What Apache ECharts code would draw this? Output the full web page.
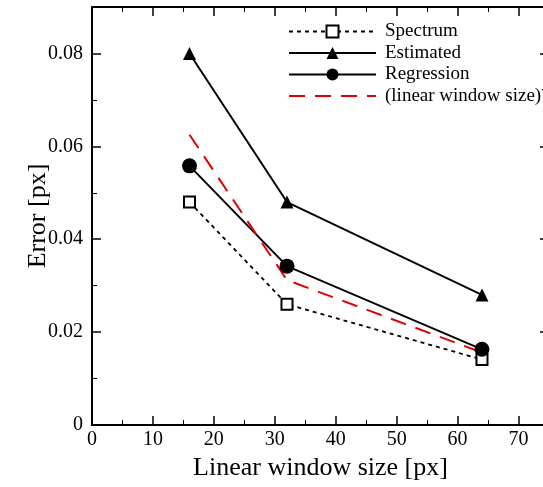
<!DOCTYPE html>
<html>
<head>
<meta charset="utf-8">
<script src="https://cdn.jsdelivr.net/npm/echarts@6/dist/echarts.min.js"></script>
<style>
html, body { margin: 0; padding: 0; background: #fff; }
#chart { width: 543px; height: 487px; }
</style>
</head>
<body>
<div id="chart"></div>
<script>
// window sizes on x
var windowSize = [16, 32, 64];
var spectrum = [0.0480, 0.0260, 0.0141];
var estimated = [0.0800, 0.0480, 0.0280];
var regression = [0.0558, 0.0342, 0.0163];
var inverseSize = [0.0625, 0.0312, 0.0156];
var names = ['Spectrum', 'Estimated', 'Regression', '(linear window size)⁻¹'];

function pairs(ys) {
    return windowSize.map(function (x, i) { return [x, ys[i]]; });
}

var serif = 'Liberation Serif';
var myChart = echarts.init(document.getElementById('chart'));

function axisBase(extra) {
    var a = {
        type: 'value',
        axisLine: { show: true, onZero: false, lineStyle: { color: '#000', width: 2 } },
        axisTick: { show: true, inside: true, length: 9, lineStyle: { color: '#000', width: 1.5 } },
        minorTick: { show: true, splitNumber: 2, length: 5, lineStyle: { color: '#000', width: 1 } },
        splitLine: { show: false },
        axisLabel: { color: '#000', fontFamily: serif, fontSize: 20 }
    };
    return Object.assign(a, extra);
}

var option = {
    backgroundColor: '#fff',
    animation: false,
    grid: { left: 92, width: 457, top: 7, bottom: 62, outerBoundsMode: 'none' },
    legend: {
        orient: 'vertical',
        left: 283,
        top: 17,
        itemWidth: 87,
        itemHeight: 15,
        itemGap: 2.5,
        textStyle: { color: '#000', fontFamily: serif, fontSize: 19, padding: [0, 0, 0, 4] },
        data: [
            { name: names[0] },
            { name: names[1] },
            { name: names[2] },
            { name: names[3], itemStyle: { opacity: 0 } }
        ]
    },
    xAxis: [
        axisBase({
            min: 0, max: 75, interval: 10,
            name: 'Linear window size [px]',
            nameLocation: 'middle',
            nameGap: 30,
            nameMoveOverlap: false,
            nameTextStyle: { color: '#000', fontFamily: serif, fontSize: 26 },
            axisLabel: {
                color: '#000', fontFamily: serif, fontSize: 20, margin: 5,
                formatter: function (v) { return v > 70 ? '' : String(v); }
            }
        }),
        axisBase({ min: 0, max: 75, interval: 10, position: 'top', axisLabel: { show: false } })
    ],
    yAxis: [
        axisBase({
            min: 0, max: 0.09, interval: 0.02,
            name: 'Error [px]',
            nameLocation: 'middle',
            nameGap: 41,
            nameMoveOverlap: false,
            nameTextStyle: { color: '#000', fontFamily: serif, fontSize: 26 },
            axisLabel: {
                color: '#000', fontFamily: serif, fontSize: 20, margin: 9,
                formatter: function (v) {
                    if (v > 0.085) return '';
                    return v === 0 ? '0' : v.toFixed(2);
                }
            }
        }),
        axisBase({ min: 0, max: 0.09, interval: 0.02, position: 'right', axisLabel: { show: false } })
    ],
    series: [
        {
            name: names[0], type: 'line', data: pairs(spectrum),
            symbol: 'rect', symbolSize: 11,
            lineStyle: { color: '#000', width: 1.8, type: [4, 4] },
            itemStyle: { color: '#fff', borderColor: '#000', borderWidth: 2 }
        },
        {
            name: names[1], type: 'line', data: pairs(estimated),
            symbol: 'triangle', symbolSize: 13,
            lineStyle: { color: '#000', width: 2 },
            itemStyle: { color: '#000', borderColor: '#000', borderWidth: 0 }
        },
        {
            name: names[2], type: 'line', data: pairs(regression),
            symbol: 'circle', symbolSize: 15,
            lineStyle: { color: '#000', width: 2 },
            itemStyle: { color: '#000', borderColor: '#000', borderWidth: 0 }
        },
        {
            name: names[3], type: 'line', data: pairs(inverseSize),
            symbol: 'none',
            lineStyle: { color: '#e00000', width: 2, type: [16, 10] },
            itemStyle: { color: '#e00000' }
        }
    ]
};

myChart.setOption(option);
</script>
</body>
</html>
